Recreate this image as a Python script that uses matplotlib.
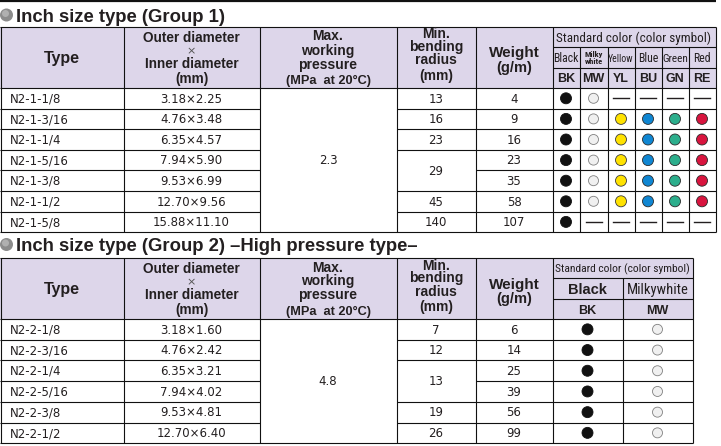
import matplotlib
matplotlib.use('Agg')
import matplotlib.pyplot as plt
from matplotlib.patches import Rectangle, Circle
from matplotlib import font_manager

# ---- data ----
types1 = ['N2-1-1/8', 'N2-1-3/16', 'N2-1-1/4', 'N2-1-5/16', 'N2-1-3/8', 'N2-1-1/2', 'N2-1-5/8']
dims1 = ['3.18×2.25', '4.76×3.48', '6.35×4.57', '7.94×5.90', '9.53×6.99', '12.70×9.56', '15.88×11.10']
pressure1 = '2.3'
radius1 = [13, 16, 23, 29, 29, 45, 140]
weight1 = [4, 9, 16, 23, 35, 58, 107]
codes1 = ['BK', 'MW', 'YL', 'BU', 'GN', 'RE']
names1 = ['Black', 'Milky\nwhite', 'Yellow', 'Blue', 'Green', 'Red']
avail1 = [['BK', 'MW'],
          codes1, codes1, codes1, codes1, codes1,
          ['BK']]

types2 = ['N2-2-1/8', 'N2-2-3/16', 'N2-2-1/4', 'N2-2-5/16', 'N2-2-3/8', 'N2-2-1/2']
dims2 = ['3.18×1.60', '4.76×2.42', '6.35×3.21', '7.94×4.02', '9.53×4.81', '12.70×6.40']
pressure2 = '4.8'
radius2 = [7, 12, 13, 13, 19, 26]
weight2 = [6, 14, 25, 39, 56, 99]
codes2 = ['BK', 'MW']
names2 = ['Black', 'Milkywhite']
avail2 = [codes2] * 6

title1 = 'Inch size type (Group 1)'
title2 = 'Inch size type (Group 2) \u2013High pressure type\u2013'

FILL = {'BK': '#111111', 'MW': '#f0f0f0', 'YL': '#ffe200',
        'BU': '#0f86d2', 'GN': '#2cae8c', 'RE': '#d8143e'}
EDGE = {'BK': '#111111', 'MW': '#808080', 'YL': '#3a3a3a',
        'BU': '#2a2a2a', 'GN': '#2a2a2a', 'RE': '#2a2a2a'}

INK = '#231f20'
HEAD = '#ddd6ea'
SANS = 'Liberation Sans'
DATA = 'DejaVu Sans'


def pick_narrow():
    names = {f.name for f in font_manager.fontManager.ttflist}
    for fam in ['Liberation Sans Narrow', 'Arial Narrow', 'Roboto Condensed',
                'Open Sans Condensed', 'DejaVu Sans Condensed']:
        if fam in names:
            return {'family': fam}
    for f in font_manager.fontManager.ttflist:
        if 'Condensed' in f.fname and 'DejaVuSans' in f.fname:
            return {'family': 'DejaVu Sans', 'stretch': 'condensed'}
    return {'family': SANS}


NARROW = pick_narrow()

fig = plt.figure(figsize=(7.21, 4.46), dpi=100)
ax = fig.add_axes([0, 0, 1, 1])
ax.set_xlim(0, 721)
ax.set_ylim(446, 0)
ax.axis('off')
LW = 0.8


def txt(x, y, s, size, ha='center', weight='normal', font=None, color=INK, maxw=None):
    # y is the vertical centre of the capitals
    font = font or {'family': SANS}
    t = ax.text(x, y + size * 0.5, s, ha=ha, va='baseline', fontsize=size,
                fontweight=weight, color=color, **font)
    if maxw is not None:
        r = fig.canvas.get_renderer()
        while t.get_window_extent(r).width > maxw and t.get_fontsize() > 4:
            t.set_fontsize(t.get_fontsize() - 0.25)
    return t


def hline(y, x0, x1, lw=LW):
    ax.plot([x0, x1], [y, y], color='#111111', lw=lw, solid_capstyle='butt')


def vline(x, y0, y1, lw=LW):
    ax.plot([x, x], [y0, y1], color='#111111', lw=lw, solid_capstyle='butt')


def title(y, s):
    ax.add_patch(Circle((6.5, y), 6.5, color='#8c8c8c', lw=0))
    ax.add_patch(Circle((5.5, y - 1.5), 3.5, color='#b0b0b0', lw=0))
    txt(16, y, s, 13.3, ha='left', weight='bold')


def table(top, ccols, codes, names, types, dims, pressure, radius, weight, avail, big_names):
    cols = [0.5, 123.5, 259.5, 396.5, 475.5] + ccols
    right = cols[-1]
    hb = top + 61
    sub1, sub2 = top + 20, top + 41
    n = len(types)
    rh = 20.6 if n == 7 else 20.7
    rows = [hb + i * rh for i in range(n + 1)]
    dfont = {'family': DATA}

    ax.add_patch(Rectangle((0, top), right, hb - top, facecolor=HEAD, lw=0))

    # header text
    c = [(cols[i] + cols[i + 1]) / 2 for i in range(len(cols) - 1)]
    txt(c[0], top + 30, 'Type', 11.5, weight='bold')
    txt(c[1], top + 10, 'Outer diameter', 9.8, weight='bold')
    txt(c[1], top + 23, '×', 8, color='#555555', font=dfont)
    txt(c[1], top + 36, 'Inner diameter', 9.8, weight='bold')
    txt(c[1], top + 51, '(mm)', 9.8, weight='bold')
    txt(c[2], top + 8.5, 'Max.', 10, weight='bold')
    txt(c[2], top + 22.5, 'working', 10, weight='bold')
    txt(c[2], top + 36.5, 'pressure', 10, weight='bold')
    txt(c[2], top + 52, '(MPa  at 20°C)', 9.2, weight='bold')
    txt(c[3], top + 6.5, 'Min.', 10, weight='bold')
    txt(c[3], top + 19, 'bending', 10, weight='bold')
    txt(c[3], top + 32.5, 'radius', 10, weight='bold')
    txt(c[3], top + 48, '(mm)', 10, weight='bold')
    txt(c[4], top + 25, 'Weight', 11, weight='bold')
    txt(c[4], top + 40, '(g/m)', 10.5, weight='bold')

    sc = (cols[5] + right) / 2
    txt(sc, top + 10, 'Standard color (color symbol)', 10.3 if not big_names else 9.5,
        font=NARROW, maxw=right - cols[5] - 5)
    for j, (code, name) in enumerate(zip(codes, names)):
        x0, x1 = ccols[j], ccols[j + 1]
        cx = (x0 + x1) / 2
        w = x1 - x0
        if big_names:
            if len(name) > 6:
                txt(cx, top + 30.5, name, 10.5, font=NARROW, maxw=w - 6)
            else:
                txt(cx, top + 30.5, name, 10.5, weight='bold')
        elif '\n' in name:
            a, b = name.split('\n')
            txt(cx, top + 26.5, a, 6, weight='bold', font=NARROW, maxw=w - 3)
            txt(cx, top + 34, b, 6, weight='bold', font=NARROW, maxw=w - 3)
        else:
            txt(cx, top + 30.5, name, 8.5, font=NARROW, maxw=w - 1)
        txt(cx, top + 51, code, 9, weight='bold', maxw=w - 3)

    # data
    for i in range(n):
        yc = (rows[i] + rows[i + 1]) / 2
        txt(10, yc, types[i], 8.5, ha='left', font=dfont)
        txt(c[1], yc, dims[i], 8.5, font=dfont)
        txt(c[4], yc, str(weight[i]), 8.5, font=dfont)
        for j, code in enumerate(codes):
            cx = (ccols[j] + ccols[j + 1]) / 2
            if code in avail[i]:
                ax.add_patch(Circle((cx, yc), 5.5 if code != 'MW' else 5.0,
                                    facecolor=FILL[code], edgecolor=EDGE[code], lw=0.6))
            else:
                ax.plot([cx - 8, cx + 8], [yc, yc], color=INK, lw=1.0)
    txt(c[2], (rows[0] + rows[-1]) / 2, pressure, 8.5, font=dfont)
    i = 0
    while i < n:
        k = i
        while k + 1 < n and radius[k + 1] == radius[i]:
            k += 1
        txt(c[3], (rows[i] + rows[k + 1]) / 2, str(radius[i]), 8.5, font=dfont)
        i = k + 1

    # grid lines
    hline(top, 0, right)
    hline(hb, 0, right)
    hline(rows[-1], 0, right)
    hline(sub1, cols[5], right)
    hline(sub2, cols[5], right)
    for k in range(1, n):
        y = rows[k]
        hline(y, 0, cols[2])
        if radius[k] != radius[k - 1]:
            hline(y, cols[3], cols[4])
        hline(y, cols[4], right)
    for x in cols[:6] + [right]:
        vline(x, top, rows[-1])
    for x in ccols[1:-1]:
        vline(x, sub1, rows[-1])


hline(1, 0, 716, lw=1.6)
title(15, title1)
table(27, [552.5, 579.5, 607.5, 634.5, 661.5, 688.5, 715.5], codes1, names1,
      types1, dims1, pressure1, radius1, weight1, avail1, False)
title(244.5, title2)
table(258, [552.5, 622.5, 692.5], codes2, names2,
      types2, dims2, pressure2, radius2, weight2, avail2, True)

fig.savefig('out.png', dpi=100)
